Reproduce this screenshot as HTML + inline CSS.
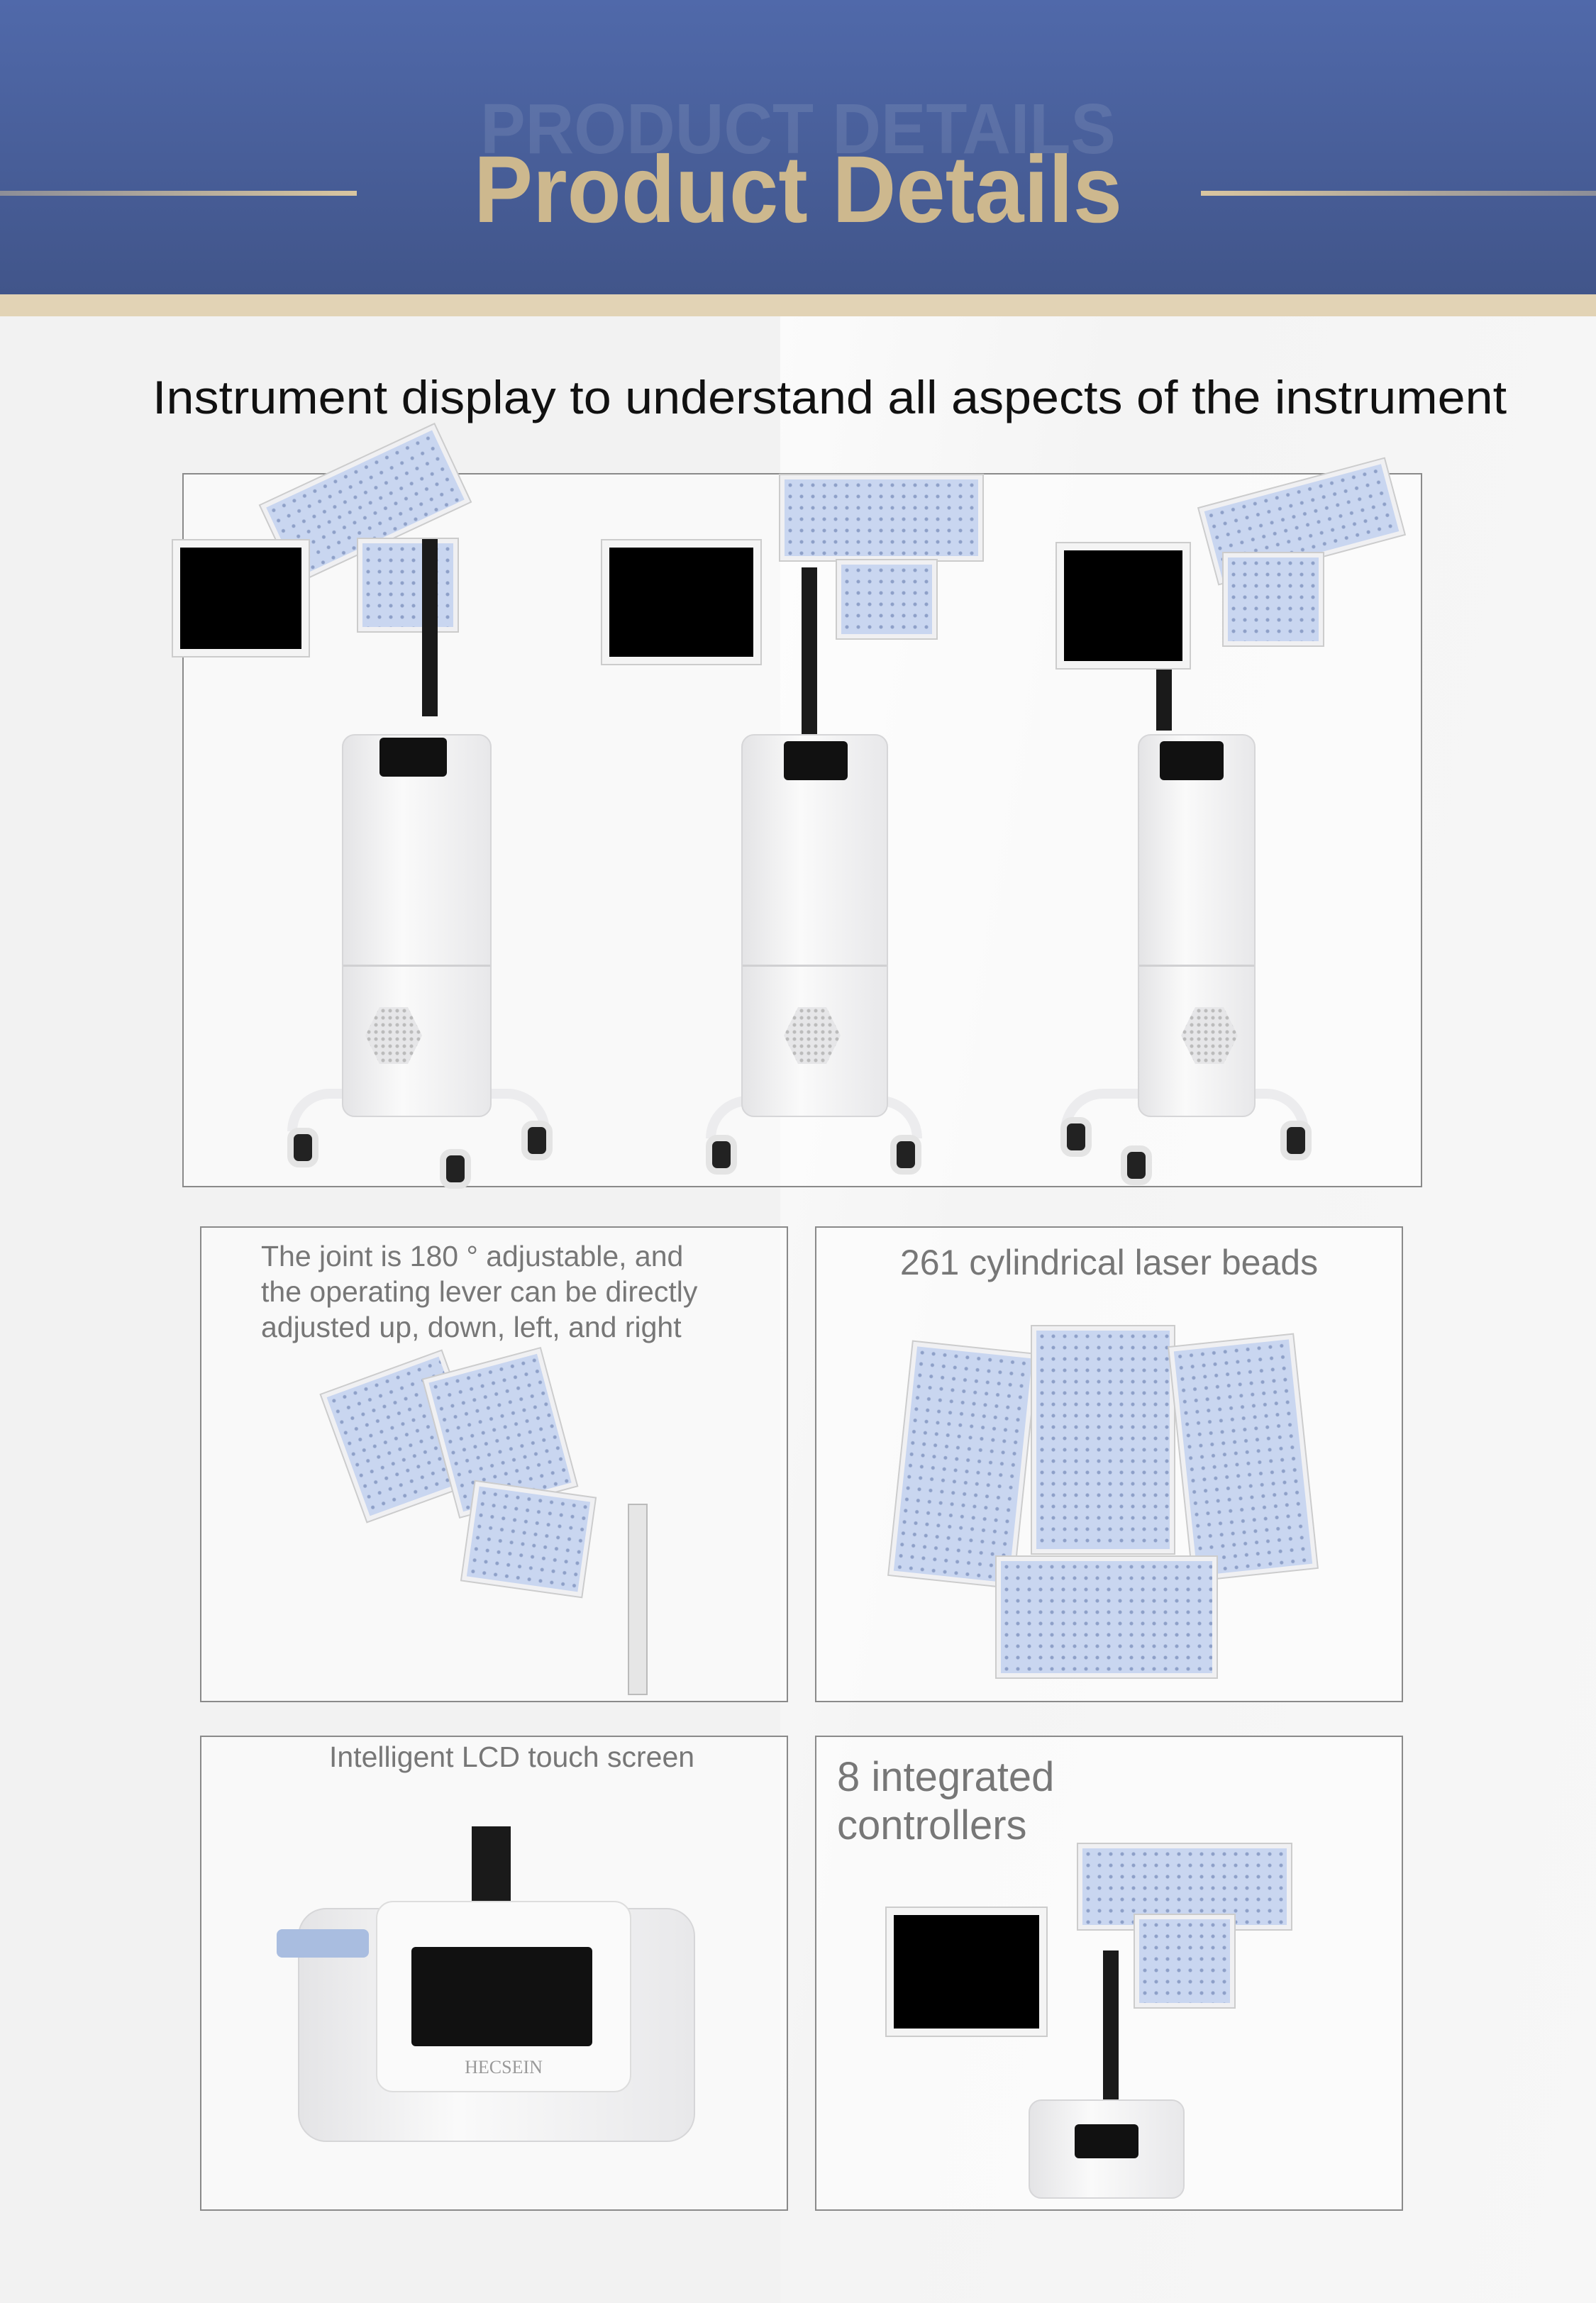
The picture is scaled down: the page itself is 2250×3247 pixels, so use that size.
<!DOCTYPE html>
<html><head><meta charset="utf-8"><style>
*{margin:0;padding:0;box-sizing:border-box}
body{width:2250px;height:3247px;position:relative;overflow:hidden;background:#f2f2f2;font-family:"Liberation Sans","DejaVu Sans",sans-serif}
.a{position:absolute}
.hdr{left:0;top:0;width:2250px;height:415px;background:linear-gradient(#5069aa,#41558a)}
.band{left:0;top:415px;width:2250px;height:31px;background:#e2d3b5}
.box{position:absolute;border:2px solid #8a8a8a;background:rgba(255,255,255,.55)}
.cab{position:absolute;background:linear-gradient(90deg,#e4e4e6,#fafafa 40%,#e8e8ea);border:2px solid #d6d6d8;border-radius:18px}
.mon{position:absolute;background:#000;border:10px solid #f4f4f4;box-shadow:0 0 0 2px #ccc}
.pan{position:absolute;background:radial-gradient(circle,#8ea0c8 2px,transparent 3px) 0 0/16px 16px,#c9d6f0;border:6px solid #f0f0f2;box-shadow:0 0 0 2px #ccc}
.pole{position:absolute;background:#1a1a1a}
.whl{position:absolute;width:44px;height:56px;border-radius:16px;background:#222;border:9px solid #e4e4e4}
.base{position:absolute;height:60px;border:14px solid #ececee;border-bottom:none;border-radius:60px 60px 0 0}
.sep{position:absolute;height:3px;background:#d0d0d2}
.hex{position:absolute;width:80px;height:80px;background:radial-gradient(circle,#bbb 2px,transparent 3px) 0 0/10px 10px;clip-path:polygon(25% 0,75% 0,100% 50%,75% 100%,25% 100%,0 50%);background-color:#e6e6e8}
.lbl{position:absolute;color:#777;font-size:41px;line-height:50px}
</style></head><body>
<div class="a hdr"></div>
<div class="a" style="left:0;top:269px;width:503px;height:7px;background:linear-gradient(90deg,#8c8e98,#d9c6a0)"></div>
<div class="a" style="left:1693px;top:269px;width:557px;height:7px;background:linear-gradient(90deg,#d9c6a0,#8c8e98)"></div>
<div class="a" style="left:0;top:132px;width:2250px;text-align:center;font-size:100px;font-weight:bold;color:rgba(255,255,255,.1);line-height:100px;transform:scaleX(.95)">PRODUCT DETAILS</div>
<div class="a" style="left:0;top:198px;width:2250px;text-align:center;font-size:134px;font-weight:bold;color:#cdb88e;line-height:140px;transform:scaleX(.93)">Product Details</div>
<div class="a band"></div>
<div class="a" style="left:1100px;top:446px;width:1150px;height:2801px;background:linear-gradient(100deg,#fbfbfb 0,#f4f4f4 30%,#f7f7f7 100%)"></div>
<div class="a" style="left:215px;top:520px;white-space:nowrap;font-size:66px;color:#111;line-height:80px;transform:scaleX(1.062);transform-origin:0 0">Instrument display to understand all aspects of the instrument</div>

<div class="box" style="left:257px;top:667px;width:1748px;height:1007px"></div>
<!-- machine 1 -->
<div class="pan" style="left:380px;top:650px;width:270px;height:120px;transform:rotate(-25deg)"></div>
<div class="pan" style="left:505px;top:760px;width:140px;height:130px"></div>
<div class="pole" style="left:595px;top:760px;width:22px;height:250px"></div>
<div class="mon" style="left:244px;top:762px;width:191px;height:163px"></div>
<div class="base" style="left:405px;top:1535px;width:370px"></div>
<div class="cab" style="left:482px;top:1035px;width:211px;height:540px"></div>
<div class="sep" style="left:484px;top:1360px;width:207px"></div>
<div class="hex" style="left:515px;top:1420px"></div>
<div class="a" style="left:535px;top:1040px;width:95px;height:55px;background:#111;border-radius:6px"></div>
<div class="whl" style="left:405px;top:1590px"></div><div class="whl" style="left:620px;top:1620px"></div><div class="whl" style="left:735px;top:1580px"></div>
<!-- machine 2 -->
<div class="pan" style="left:1100px;top:670px;width:285px;height:120px"></div>
<div class="pan" style="left:1180px;top:790px;width:140px;height:110px"></div>
<div class="pole" style="left:1130px;top:800px;width:22px;height:240px"></div>
<div class="mon" style="left:849px;top:762px;width:223px;height:174px"></div>
<div class="base" style="left:995px;top:1545px;width:305px"></div>
<div class="cab" style="left:1045px;top:1035px;width:207px;height:540px"></div>
<div class="sep" style="left:1047px;top:1360px;width:203px"></div>
<div class="hex" style="left:1105px;top:1420px"></div>
<div class="a" style="left:1105px;top:1045px;width:90px;height:55px;background:#111;border-radius:6px"></div>
<div class="whl" style="left:995px;top:1600px"></div><div class="whl" style="left:1255px;top:1600px"></div>
<!-- machine 3 -->
<div class="pan" style="left:1700px;top:680px;width:270px;height:110px;transform:rotate(-15deg)"></div>
<div class="pan" style="left:1725px;top:780px;width:140px;height:130px"></div>
<div class="pole" style="left:1630px;top:800px;width:22px;height:230px"></div>
<div class="mon" style="left:1490px;top:766px;width:187px;height:176px"></div>
<div class="base" style="left:1495px;top:1535px;width:350px"></div>
<div class="cab" style="left:1604px;top:1035px;width:166px;height:540px"></div>
<div class="sep" style="left:1606px;top:1360px;width:162px"></div>
<div class="hex" style="left:1665px;top:1420px"></div>
<div class="a" style="left:1635px;top:1045px;width:90px;height:55px;background:#111;border-radius:6px"></div>
<div class="whl" style="left:1495px;top:1575px"></div><div class="whl" style="left:1580px;top:1615px"></div><div class="whl" style="left:1805px;top:1580px"></div>

<div class="box" style="left:282px;top:1729px;width:829px;height:671px"></div>
<div class="lbl" style="left:368px;top:1746px">The joint is 180 ° adjustable, and<br>the operating lever can be directly<br>adjusted up, down, left, and right</div>
<div class="pan" style="left:480px;top:1930px;width:180px;height:190px;transform:rotate(-20deg)"></div>
<div class="pan" style="left:620px;top:1920px;width:170px;height:200px;transform:rotate(-15deg)"></div>
<div class="pan" style="left:660px;top:2100px;width:170px;height:140px;transform:rotate(8deg)"></div>
<div class="a" style="left:885px;top:2120px;width:28px;height:270px;background:#e6e6e6;border:2px solid #bbb"></div>

<div class="box" style="left:1149px;top:1729px;width:829px;height:671px"></div>
<div class="lbl" style="left:1149px;top:1752px;width:829px;text-align:center;font-size:50px;line-height:56px">261 cylindrical laser beads</div>
<div class="pan" style="left:1270px;top:1900px;width:175px;height:330px;transform:rotate(6deg)"></div>
<div class="pan" style="left:1455px;top:1870px;width:200px;height:320px"></div>
<div class="pan" style="left:1665px;top:1890px;width:175px;height:330px;transform:rotate(-6deg)"></div>
<div class="pan" style="left:1405px;top:2195px;width:310px;height:170px"></div>

<div class="box" style="left:282px;top:2447px;width:829px;height:670px"></div>
<div class="lbl" style="left:464px;top:2452px">Intelligent LCD touch screen</div>
<div class="pole" style="left:665px;top:2575px;width:55px;height:110px"></div>
<div class="cab" style="left:420px;top:2690px;width:560px;height:330px;border-radius:40px"></div>
<div class="a" style="left:530px;top:2680px;width:360px;height:270px;background:#fafafa;border:2px solid #ddd;border-radius:24px"></div>
<div class="a" style="left:580px;top:2745px;width:255px;height:140px;background:#111;border-radius:6px"></div>
<div class="a" style="left:530px;top:2900px;width:360px;text-align:center;font-family:'Liberation Serif',serif;color:#999;font-size:26px">HECSEIN</div>
<div class="a" style="left:390px;top:2720px;width:130px;height:40px;background:#a9bde0;border-radius:8px"></div>

<div class="box" style="left:1149px;top:2447px;width:829px;height:670px"></div>
<div class="lbl" style="left:1180px;top:2472px;font-size:58px;line-height:68px">8 integrated<br>controllers</div>
<div class="pan" style="left:1520px;top:2600px;width:300px;height:120px"></div>
<div class="pan" style="left:1600px;top:2700px;width:140px;height:130px"></div>
<div class="pole" style="left:1555px;top:2750px;width:22px;height:230px"></div>
<div class="mon" style="left:1250px;top:2690px;width:225px;height:180px"></div>
<div class="cab" style="left:1450px;top:2960px;width:220px;height:140px"></div>
<div class="a" style="left:1515px;top:2995px;width:90px;height:48px;background:#111;border-radius:6px"></div>
</body></html>
